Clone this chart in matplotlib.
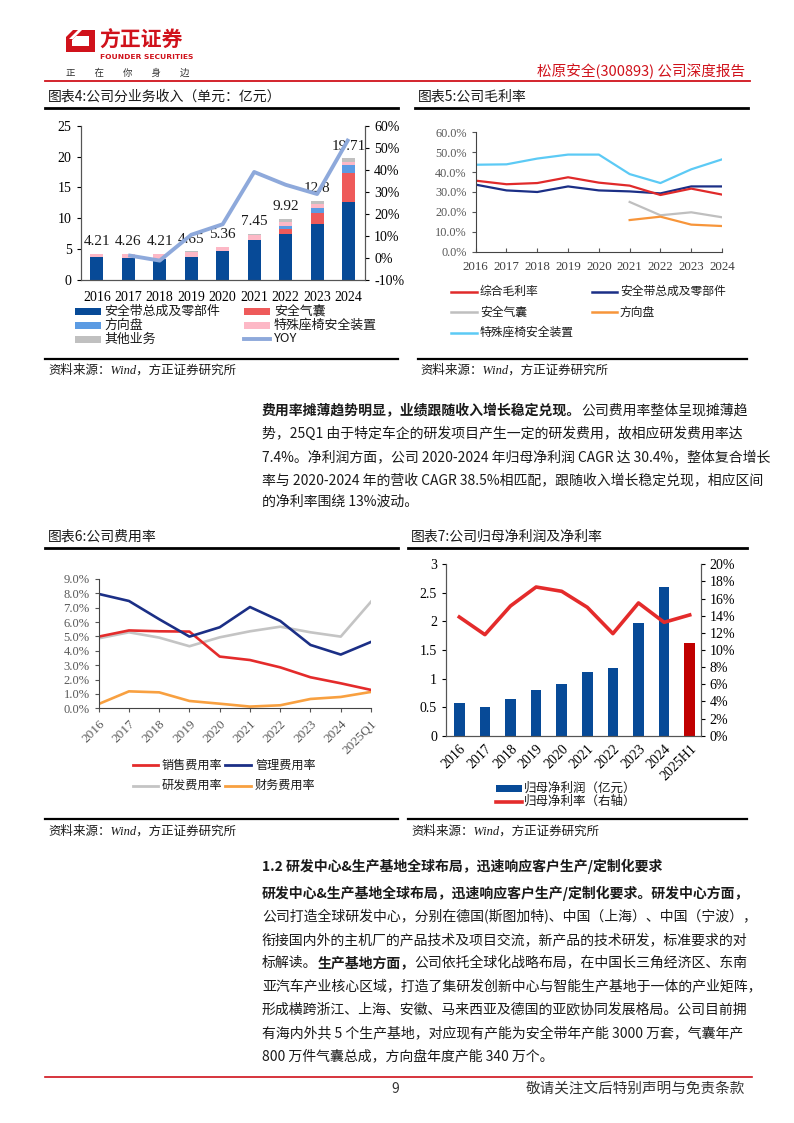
import matplotlib
matplotlib.use('Agg')
import matplotlib.pyplot as plt
from matplotlib.patches import Rectangle, Polygon
from matplotlib.lines import Line2D
import numpy as np

W, H = 794, 1123
SERIF = ['Liberation Serif', 'Noto Sans CJK SC', 'DejaVu Sans']
CJK = ['Noto Sans CJK SC', 'DejaVu Sans']
plt.rcParams['font.family'] = SERIF
plt.rcParams['axes.unicode_minus'] = False

# ---------------- data ----------------
years9 = ['2016', '2017', '2018', '2019', '2020', '2021', '2022', '2023', '2024']
# chart 4: segment revenue (100m CNY)
rev_belt = [3.65, 3.60, 3.35, 3.78, 4.70, 6.48, 7.40, 9.00, 12.58]
rev_airbag = [0, 0, 0, 0, 0, 0, 0.90, 1.90, 4.81]
rev_wheel = [0, 0, 0, 0, 0, 0, 0.45, 0.76, 1.24]
rev_seat = [0.56, 0.66, 0.86, 0.82, 0.60, 0.81, 0.70, 0.64, 0.47]
rev_other = [0, 0, 0, 0.05, 0.06, 0.16, 0.47, 0.50, 0.61]
rev_total = [4.21, 4.26, 4.21, 4.65, 5.36, 7.45, 9.92, 12.8, 19.71]
rev_yoy = [np.nan, 1.2, -1.2, 10.5, 15.3, 39.0, 33.2, 29.0, 54.0]

# chart 5: gross margin (%)
gm_total = [35.7, 33.9, 34.5, 37.4, 34.7, 33.2, 28.5, 31.7, 28.7]
gm_belt = [33.7, 30.8, 30.0, 32.8, 30.8, 30.3, 29.3, 32.8, 32.8]
gm_airbag = [np.nan, np.nan, np.nan, np.nan, np.nan, 25.0, 18.3, 19.8, 17.3]
gm_wheel = [np.nan, np.nan, np.nan, np.nan, np.nan, 15.9, 17.6, 13.6, 12.9]
gm_seat = [43.7, 43.9, 46.8, 48.8, 48.8, 39.0, 34.5, 41.4, 46.4]

# chart 6: expense ratios (%)
years10 = years9 + ['2025Q1']
exp_sales = [4.99, 5.42, 5.36, 5.34, 3.60, 3.36, 2.85, 2.16, 1.74, 1.28]
exp_admin = [7.96, 7.47, 6.20, 4.99, 5.64, 7.05, 6.08, 4.41, 3.74, 4.62]
exp_rd = [4.87, 5.29, 4.92, 4.32, 4.94, 5.36, 5.68, 5.29, 4.99, 7.42]
exp_fin = [0.30, 1.18, 1.11, 0.51, 0.32, 0.12, 0.21, 0.65, 0.79, 1.14]

# chart 7: net profit (100m CNY) and net margin (%)
years10b = years9 + ['2025H1']
np_profit = [0.58, 0.50, 0.636, 0.806, 0.905, 1.109, 1.185, 1.979, 2.604, 1.623]
np_margin = [13.85, 11.79, 15.14, 17.35, 16.85, 14.98, 11.91, 15.49, 13.23, 14.09]

fig = plt.figure(figsize=(W / 100, H / 100), dpi=100)


def ax_at(x0, y0, x1, y1):
    return fig.add_axes([x0 / W, 1 - y1 / H, (x1 - x0) / W, (y1 - y0) / H])


def txt(x, y, s, **kw):
    kw.setdefault('va', 'center')
    return fig.text(x / W, 1 - y / H, s, **kw)


def hline(x0, x1, y, color='black', lw=1.0):
    fig.add_artist(Line2D([x0 / W, x1 / W], [1 - y / H, 1 - y / H],
                          transform=fig.transFigure, color=color, lw=lw))


def poly(pts, color):
    fig.add_artist(Polygon([(px / W, 1 - py / H) for px, py in pts], closed=True,
                           transform=fig.transFigure, color=color, lw=0))


def leg_patch(x0, x1, y, h, color, label, tx, size):
    fig.add_artist(Rectangle((x0 / W, 1 - (y + h / 2) / H), (x1 - x0) / W, h / H,
                             transform=fig.transFigure, color=color, lw=0))
    txt(tx, y, label, fontsize=size, family=CJK, color='#1a1a1a')


def leg_line(x0, x1, y, color, lw, label, tx, size):
    hline(x0, x1, y, color, lw)
    txt(tx, y, label, fontsize=size, family=CJK, color='#1a1a1a')


renderer = fig.canvas.get_renderer()


def runs(x, y, parts, size=10, color='#1a1a1a'):
    for s, bold in parts:
        t = txt(x, y, s, fontsize=size, family=CJK,
                weight='bold' if bold else 'normal', ha='left', color=color)
        bb = t.get_window_extent(renderer=renderer)
        x += bb.width


# ---------------- header ----------------
RED = '#D0121B'
poly([(73, 30), (95, 30), (95, 52), (66, 52), (66, 37)], RED)
poly([(76, 36), (89, 36), (89, 46), (72, 46), (72, 40)], 'white')
poly([(78, 30), (82, 30), (73, 39), (69, 39)], 'white')
txt(99, 40, '方正证券', fontsize=15, family=CJK, weight='bold', color=RED, ha='left')
txt(100, 57, 'FOUNDER SECURITIES', fontsize=5.4, family=['DejaVu Sans'], weight='bold',
    color=RED, ha='left')
txt(66, 73, '正\u3000\u3000在\u3000\u3000你\u3000\u3000身\u3000\u3000边', fontsize=6.8,
    family=CJK, color='#333333', ha='left')
txt(745, 71, '松原安全(300893) 公司深度报告', fontsize=10.5, family=CJK, color=RED, ha='right')
hline(45, 750, 81, RED, 1.3)

# ---------------- chart 4 ----------------
txt(48, 97, '图表4:公司分业务收入（单元：亿元）', fontsize=10, family=CJK, ha='left', color='#1a1a1a')
hline(45, 398, 107.5, 'black', 2.0)

C_BELT, C_AIR, C_WHEEL, C_SEAT, C_OTHER = '#074A97', '#EE5A5A', '#5B9BE3', '#FDB8C6', '#C0C0C0'
ax4 = ax_at(80.7, 125.7, 365, 280)
x = np.arange(len(years9))
bottom = np.zeros(len(years9))
for vals, c in [(rev_belt, C_BELT), (rev_airbag, C_AIR), (rev_wheel, C_WHEEL),
                (rev_seat, C_SEAT), (rev_other, C_OTHER)]:
    ax4.bar(x, vals, bottom=bottom, width=0.42, color=c, lw=0)
    bottom = bottom + np.array(vals)
for i, v in enumerate(rev_total):
    ax4.annotate(f'{v:g}', (i, v), xytext=(0, 4), textcoords='offset points',
                 ha='center', va='bottom', fontsize=11, color='#1a1a1a')
ax4.set_xlim(-0.51, 8.52)
ax4.set_ylim(0, 25)
ax4.set_yticks(range(0, 26, 5))
ax4.set_xticks(x)
ax4.set_xticklabels(years9)
ax4.tick_params(axis='x', length=0, pad=8, labelsize=10)
ax4.tick_params(axis='y', length=3, labelsize=10, direction='out')
ax4.spines['top'].set_visible(False)
for s in ['left', 'right', 'bottom']:
    ax4.spines[s].set_color('#555555')
ax4b = ax4.twinx()
ax4b.plot(x, rev_yoy, color='#8EA9DB', lw=2.8, solid_capstyle='butt')
ax4b.set_ylim(-10, 60)
ax4b.set_yticks(range(-10, 61, 10))
ax4b.set_yticklabels([f'{v}%' for v in range(-10, 61, 10)])
ax4b.tick_params(axis='y', length=3, labelsize=10)
ax4b.spines['top'].set_visible(False)
for s in ['left', 'right', 'bottom']:
    ax4b.spines[s].set_color('#555555')

leg_patch(75, 101, 311, 7, C_BELT, '安全带总成及零部件', 104, 9.3)
leg_patch(75, 101, 325, 7, C_WHEEL, '方向盘', 104, 9.3)
leg_patch(75, 101, 339, 7, C_OTHER, '其他业务', 104, 9.3)
leg_patch(244, 270, 311, 7, C_AIR, '安全气囊', 274, 9.3)
leg_patch(244, 270, 325, 7, C_SEAT, '特殊座椅安全装置', 274, 9.3)
leg_line(244, 270, 339, '#8EA9DB', 2.8, 'YOY', 274, 9.3)

hline(45, 398, 359, 'black', 1.6)
txt(48, 370, '资料来源：Wind，方正证券研究所', fontsize=9, style='italic', ha='left', color='#1a1a1a')

# ---------------- chart 5 ----------------
txt(418, 97, '图表5:公司毛利率', fontsize=10, family=CJK, ha='left', color='#1a1a1a')
hline(415, 748, 107.5, 'black', 2.0)

C5 = {'tot': '#E02A2A', 'belt': '#1B2F86', 'air': '#BFBFBF', 'wheel': '#F7953A', 'seat': '#5CCAF5'}
ax5 = ax_at(475.7, 132.3, 722, 251.7)
x8 = np.arange(len(years9))
ax5.plot(x8, gm_seat, color=C5['seat'], lw=1.6)
ax5.plot(x8, gm_airbag, color=C5['air'], lw=1.6)
ax5.plot(x8, gm_wheel, color=C5['wheel'], lw=1.6)
ax5.plot(x8, gm_belt, color=C5['belt'], lw=1.6)
ax5.plot(x8, gm_total, color=C5['tot'], lw=1.6)
ax5.set_xlim(0, 8)
ax5.set_ylim(0, 60)
ax5.set_yticks(range(0, 61, 10))
ax5.set_yticklabels([f'{v:.1f}%' for v in range(0, 61, 10)])
ax5.set_xticks(x8)
ax5.set_xticklabels(years9)
ax5.tick_params(axis='y', length=3, labelsize=8.8, labelcolor='#595959', color='#555555')
ax5.tick_params(axis='x', length=3, direction='in', labelsize=9.3, labelcolor='#404040',
                color='#555555', pad=7)
ax5.spines['top'].set_visible(False)
ax5.spines['right'].set_visible(False)
for s in ['left', 'bottom']:
    ax5.spines[s].set_color('#444444')

leg_line(451, 477, 291.7, C5['tot'], 1.8, '综合毛利率', 480, 8.5)
leg_line(451, 477, 312.3, C5['air'], 1.8, '安全气囊', 480, 8.5)
leg_line(451, 477, 332.7, C5['seat'], 1.8, '特殊座椅安全装置', 480, 8.5)
leg_line(592, 617, 291.7, C5['belt'], 1.8, '安全带总成及零部件', 620, 8.5)
leg_line(592, 617, 312.3, C5['wheel'], 1.8, '方向盘', 620, 8.5)

hline(418, 747, 359, 'black', 1.6)
txt(420, 370, '资料来源：Wind，方正证券研究所', fontsize=9, style='italic', ha='left', color='#1a1a1a')

# ---------------- paragraph 1 ----------------
PX = 262
runs(PX, 411, [('费用率摊薄趋势明显，业绩跟随收入增长稳定兑现。', True), ('公司费用率整体呈现摊薄趋', False)])
runs(PX, 434, [('势，25Q1 由于特定车企的研发项目产生一定的研发费用，故相应研发费用率达', False)])
runs(PX, 457, [('7.4%。净利润方面，公司 2020-2024 年归母净利润 CAGR 达 30.4%，整体复合增长', False)])
runs(PX, 480, [('率与 2020-2024 年的营收 CAGR 38.5%相匹配，跟随收入增长稳定兑现，相应区间', False)])
runs(PX, 502, [('的净利率围绕 13%波动。', False)])

# ---------------- chart 6 ----------------
txt(48, 537, '图表6:公司费用率', fontsize=10, family=CJK, ha='left', color='#1a1a1a')
hline(45, 398, 547.7, 'black', 2.0)

C6 = {'sales': '#E42B2B', 'admin': '#1B2F86', 'rd': '#C4C4C4', 'fin': '#F8A040'}
ax6 = ax_at(98.7, 579, 371, 708.3)
x10 = np.arange(len(years10))
ax6.plot(x10, exp_rd, color=C6['rd'], lw=1.9)
ax6.plot(x10, exp_fin, color=C6['fin'], lw=1.9)
ax6.plot(x10, exp_sales, color=C6['sales'], lw=1.9)
ax6.plot(x10, exp_admin, color=C6['admin'], lw=1.9)
ax6.set_xlim(0, 9)
ax6.set_ylim(0, 9)
ax6.set_yticks(range(0, 10))
ax6.set_yticklabels([f'{v:.1f}%' for v in range(0, 10)])
ax6.set_xticks(x10)
ax6.set_xticklabels(years10, rotation=45, ha='right', rotation_mode='anchor')
ax6.tick_params(axis='y', length=3, labelsize=9, labelcolor='#595959', color='#555555')
ax6.tick_params(axis='x', length=3, labelsize=9.5, labelcolor='#595959', color='#555555', pad=4)
ax6.spines['top'].set_visible(False)
ax6.spines['right'].set_visible(False)
for s in ['left', 'bottom']:
    ax6.spines[s].set_color('#444444')

leg_line(133, 158, 765, C6['sales'], 2.0, '销售费用率', 162, 8.7)
leg_line(133, 158, 785.7, C6['rd'], 2.0, '研发费用率', 162, 8.7)
leg_line(225, 251, 765, C6['admin'], 2.0, '管理费用率', 255, 8.7)
leg_line(225, 251, 785.7, C6['fin'], 2.0, '财务费用率', 255, 8.7)

hline(45, 398, 819.3, 'black', 1.6)
txt(48, 831, '资料来源：Wind，方正证券研究所', fontsize=9, style='italic', ha='left', color='#1a1a1a')

# ---------------- chart 7 ----------------
txt(411, 537, '图表7:公司归母净利润及净利率', fontsize=10, family=CJK, ha='left', color='#1a1a1a')
hline(408, 747, 547.7, 'black', 2.0)

C_BAR7, C_LAST7, C_LINE7 = '#074A97', '#C00000', '#E42B2B'
ax7 = ax_at(446, 564.3, 700.7, 735.7)
xb = np.arange(len(years10b))
bar_colors = [C_BAR7] * (len(years10b) - 1) + [C_LAST7]
ax7.bar(xb, np_profit, width=0.42, color=bar_colors, lw=0)
ax7.set_xlim(-0.52, 9.43)
ax7.set_ylim(0, 3)
ax7.set_yticks([0, 0.5, 1, 1.5, 2, 2.5, 3])
ax7.set_yticklabels(['0', '0.5', '1', '1.5', '2', '2.5', '3'])
ax7.set_xticks(xb)
ax7.set_xticklabels(years10b, rotation=45, ha='right', rotation_mode='anchor')
ax7.tick_params(axis='y', length=3, labelsize=10)
ax7.tick_params(axis='x', length=0, labelsize=10, pad=5)
ax7.spines['top'].set_visible(False)
for s in ['left', 'right', 'bottom']:
    ax7.spines[s].set_color('#555555')
ax7b = ax7.twinx()
ax7b.plot(xb, np_margin, color=C_LINE7, lw=2.6)
ax7b.set_ylim(0, 20)
ax7b.set_yticks(range(0, 21, 2))
ax7b.set_yticklabels([f'{v}%' for v in range(0, 21, 2)])
ax7b.tick_params(axis='y', length=3, labelsize=10)
ax7b.spines['top'].set_visible(False)
for s in ['left', 'right', 'bottom']:
    ax7b.spines[s].set_color('#555555')

leg_patch(496, 522, 788.3, 7.5, C_BAR7, '归母净利润（亿元）', 524, 9)
leg_line(496, 522, 801.7, C_LINE7, 2.6, '归母净利率（右轴）', 524, 9)

hline(408, 747, 819.3, 'black', 1.6)
txt(411, 831, '资料来源：Wind，方正证券研究所', fontsize=9, style='italic', ha='left', color='#1a1a1a')

# ---------------- paragraph 2 ----------------
runs(PX, 866, [('1.2 研发中心&生产基地全球布局，迅速响应客户生产/定制化要求', True)], size=10)
runs(PX, 893, [('研发中心&生产基地全球布局，迅速响应客户生产/定制化要求。研发中心方面，', True)])
runs(PX, 917, [('公司打造全球研发中心，分别在德国(斯图加特)、中国（上海）、中国（宁波），', False)])
runs(PX, 940, [('衔接国内外的主机厂的产品技术及项目交流，新产品的技术研发，标准要求的对', False)])
runs(PX, 963, [('标解读。', False), ('生产基地方面，', True), ('公司依托全球化战略布局，在中国长三角经济区、东南', False)])
runs(PX, 986, [('亚汽车产业核心区域，打造了集研发创新中心与智能生产基地于一体的产业矩阵，', False)])
runs(PX, 1009, [('形成横跨浙江、上海、安徽、马来西亚及德国的亚欧协同发展格局。公司目前拥', False)])
runs(PX, 1033, [('有海内外共 5 个生产基地，对应现有产能为安全带年产能 3000 万套，气囊年产', False)])
runs(PX, 1056, [('800 万件气囊总成，方向盘年度产能 340 万个。', False)])

# ---------------- footer ----------------
hline(45, 752, 1077, RED, 1.2)
txt(395, 1089, '9', fontsize=10, family=CJK, ha='center', color='#333333')
txt(745, 1089, '敬请关注文后特别声明与免责条款', fontsize=10.5, family=CJK, ha='right', color='#333333')

fig.savefig('out.png', dpi=100)
